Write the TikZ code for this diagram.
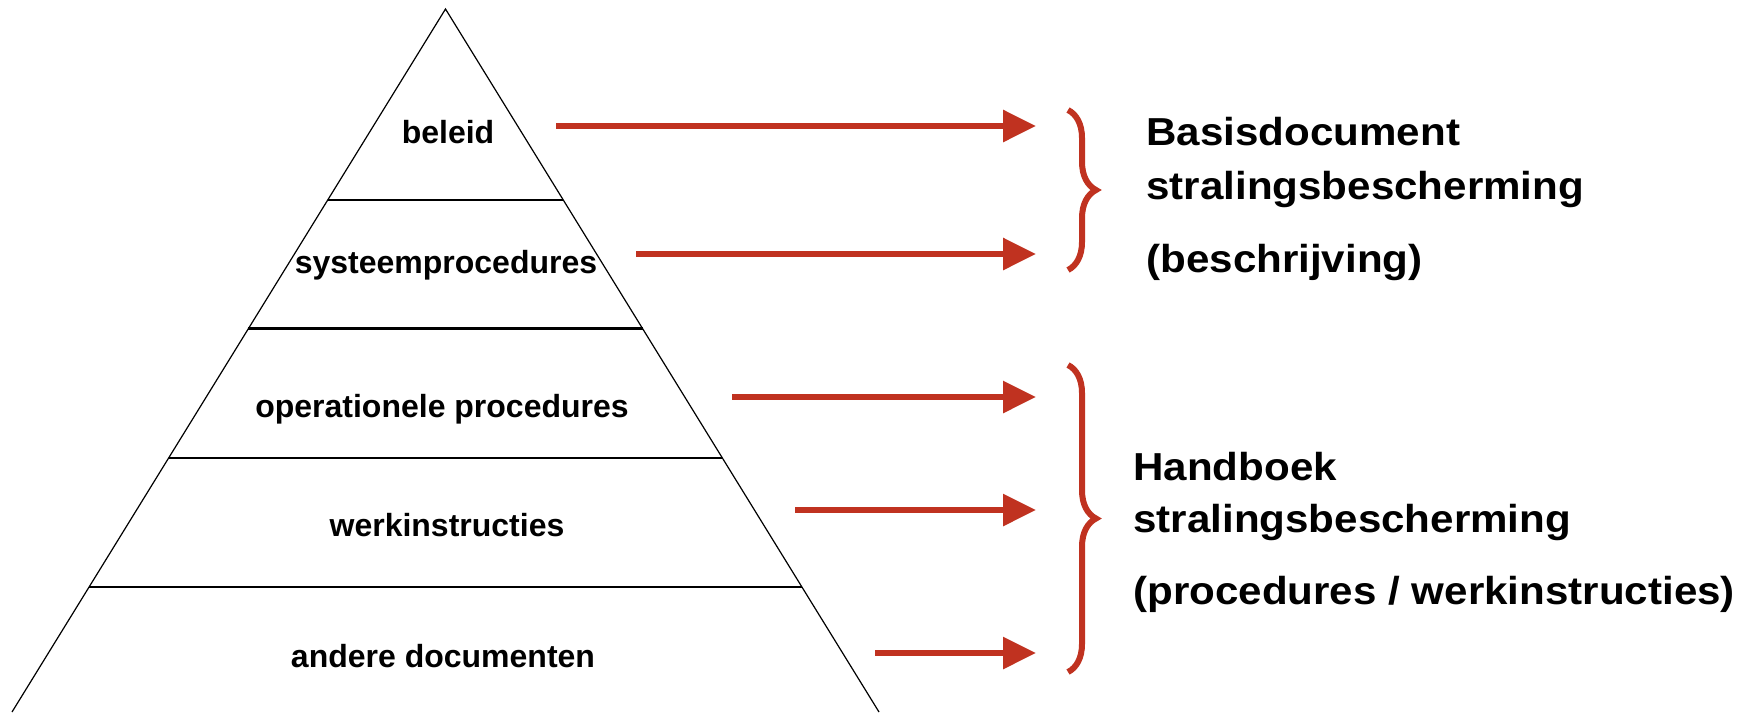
\documentclass[tikz,border=0pt]{standalone}
\usepackage{fontspec}
\setmainfont{Liberation Sans}
\newfontfamily\breedfont[FakeStretch=1.08]{Liberation Sans}
\usetikzlibrary{arrows.meta}
\usetikzlibrary{calc}
\usetikzlibrary{decorations.pathreplacing}
\definecolor{pijlrood}{RGB}{192,50,32}

\begin{document}
\begin{tikzpicture}[x=0.5pt,y=-0.5pt,
  laag/.style={font=\fontsize{16}{19}\selectfont\bfseries,inner sep=0pt,anchor=base},
  groep/.style={font=\breedfont\fontsize{19.5}{23}\selectfont\bfseries,inner sep=0pt,anchor=base west},
  pijl/.style={line width=3pt,pijlrood,-{Triangle[length=16.5pt,width=15.5pt]}},
  accolade/.style={line width=3pt,pijlrood,decorate,decoration={brace,amplitude=14pt}}]
\useasboundingbox (0,0) rectangle (1764,712);

% piramide
  \coordinate (top) at (445.5,9);
  \coordinate (bl) at (12,712);
  \coordinate (br) at (879,712);
  \draw[line width=0.6pt](bl)--(top)--(br);
\draw[line width=1.35pt]($(top)!0.2717!(bl)$)--($(top)!0.2717!(br)$);
\draw[line width=1.35pt]($(top)!0.4545!(bl)$)--($(top)!0.4545!(br)$);
\draw[line width=1.35pt]($(top)!0.6387!(bl)$)--($(top)!0.6387!(br)$);
\draw[line width=1.35pt]($(top)!0.8222!(bl)$)--($(top)!0.8222!(br)$);

  \node[laag] (beleid) at (448,143) {beleid};
  \node[laag] (systeem) at (446,273) {systeemprocedures};
  \node[laag] (operationeel) at (442,417) {operationele procedures};
  \node[laag] (werk) at (447,536) {werkinstructies};
  \node[laag] (andere) at (443,667) {andere documenten};

% pijlen
  \coordinate (van1) at (556,126);  \coordinate (naar1) at (1036,126);
  \coordinate (van2) at (636,254);  \coordinate (naar2) at (1036,254);
  \coordinate (van3) at (732,397);  \coordinate (naar3) at (1036,397);
  \coordinate (van4) at (795,510);  \coordinate (naar4) at (1036,510);
  \coordinate (van5) at (875,653);  \coordinate (naar5) at (1036,653);
\draw[pijl](van1)--(naar1);
\draw[pijl](van2)--(naar2);
\draw[pijl](van3)--(naar3);
\draw[pijl](van4)--(naar4);
\draw[pijl](van5)--(naar5);

% accolades
  \coordinate (a1) at (1068,110);  \coordinate (b1) at (1068,270);
  \coordinate (a2) at (1068,365);  \coordinate (b2) at (1068,672);
\draw[accolade](a1)--(b1);
\draw[accolade](a2)--(b2);

  \node[groep] (basis) at (1146,145) {Basisdocument};
  \node[groep] (straling1) at (1146,199) {stralingsbescherming};
  \node[groep] (beschrijving) at (1146,272) {(beschrijving)};
  \node[groep] (handboek) at (1133,480) {Handboek};
  \node[groep] (straling2) at (1133,532) {stralingsbescherming};
  \node[groep] (procedures) at (1133,604) {(procedures / werkinstructies)};
  \end{tikzpicture}
\end{document}
